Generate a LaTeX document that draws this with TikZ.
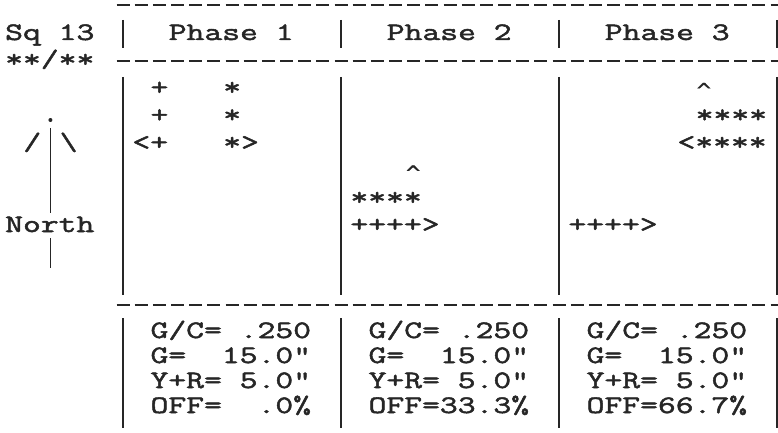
\documentclass[tikz,border=0pt]{standalone}
\usepackage{fontspec}
\newfontfamily\printfont[FakeStretch=1.385,FakeBold=2]{Latin Modern Mono}
\newfontfamily\caretfont[FakeStretch=1.2,FakeBold=1]{DejaVu Sans Mono}
\definecolor{ink}{RGB}{38,38,38}

\def\cw{18.17}
\tikzset{
  txt/.style={font=\printfont\fontsize{25}{25}\selectfont, inner sep=0pt, anchor=base west, text=ink},
  caret/.style={txt, font=\caretfont\fontsize{20}{20}\selectfont},
  dashrule/.style={draw=ink, line width=2.4pt, dash pattern=on 13pt off 5.17pt},
  bar/.style={draw=ink, line width=1.8pt}
}

\begin{document}
\begin{tikzpicture}[x=1pt,y=-1pt]
\useasboundingbox (0,0) rectangle (778,433);

% rules of the table
\foreach \y in {5,61,305}
  \draw[dashrule] (116.5,\y) -- (778,\y);
\foreach \c in {6,18,30,42} {
  \draw[bar] ({5+\cw*(\c+.5)},20) -- ({5+\cw*(\c+.5)},48);
  \draw[bar] ({5+\cw*(\c+.5)},77) -- ({5+\cw*(\c+.5)},295);
  \draw[bar] ({5+\cw*(\c+.5)},318) -- ({5+\cw*(\c+.5)},428);
}

% left labels and north arrow
\node[txt] (sq) at (5,40) {Sq 13};
\node[txt] (stars) at (5,67) {**/**};
\fill[ink] ({5+\cw*2.5},120) circle (2pt) coordinate (tip);
\node[txt] (lwing) at ({5+\cw*1},150) {/};
\node[txt] (rwing) at ({5+\cw*3},150) {\textbackslash};
\node[txt] (north) at (5,232) {North};
\draw[bar] ({5+\cw*2.5},128) -- ({5+\cw*2.5},213);
\draw[bar] ({5+\cw*2.5},238) -- ({5+\cw*2.5},268);

% headers
\foreach \p in {1,2,3}
  \node[txt] (head\p) at ({5+\cw*(12*\p-3)},40) {Phase \p};

% phase 1
\node[txt] (pa1) at ({5+\cw*8},95) {+};
\node[txt] (sa1) at ({5+\cw*12},95) {*};
\node[txt] (pa2) at ({5+\cw*8},122.5) {+};
\node[txt] (sa2) at ({5+\cw*12},122.5) {*};
\node[txt] (pa3) at ({5+\cw*7},150) {<+};
\node[txt] (sa3) at ({5+\cw*12},150) {*>};

% phase 2
\node[caret] (pb1) at ({5+\cw*22+1},180) {\textasciicircum};
\node[txt] (pb2) at ({5+\cw*19},205) {****};
\node[txt] (pb3) at ({5+\cw*19},232) {++++>};

% phase 3
\node[caret] (pc1) at ({5+\cw*38+1},97.5) {\textasciicircum};
\node[txt] (pc2) at ({5+\cw*38},122.5) {****};
\node[txt] (pc3) at ({5+\cw*37},150) {<****};
\node[txt] (pc4) at ({5+\cw*31},232) {++++>};

% timing data
\foreach \p/\off in {1/\ \ .0\%,2/33.3\%,3/66.7\%} {
  \node[txt] (gc\p) at ({5+\cw*(12*\p-4)},338) {G/C=\ .250};
  \node[txt] (g\p) at ({5+\cw*(12*\p-4)},363) {G=\ \ 15.0"};
  \node[txt] (yr\p) at ({5+\cw*(12*\p-4)},388) {Y+R=\ 5.0"};
  \node[txt] (off\p) at ({5+\cw*(12*\p-4)},413) {OFF=\off};
}
\end{tikzpicture}
\end{document}
